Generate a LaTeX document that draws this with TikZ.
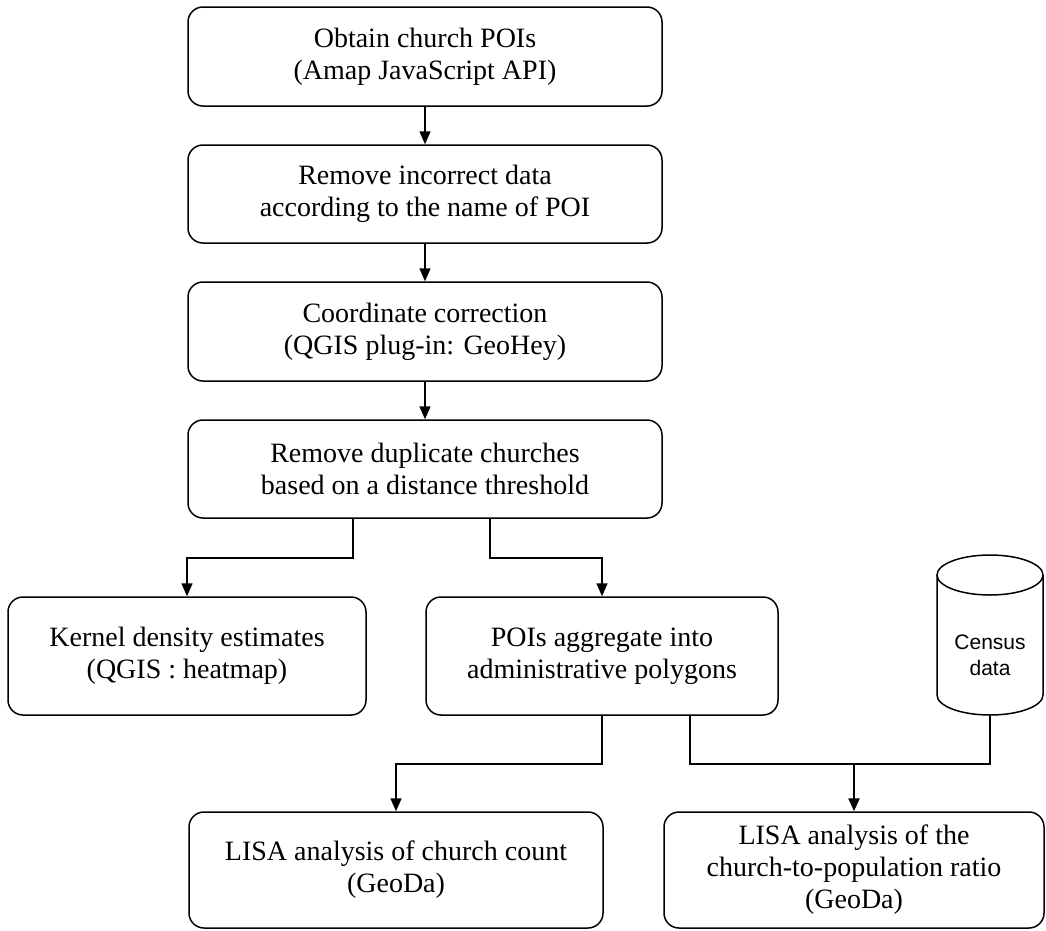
\documentclass[tikz,border=0pt]{standalone}
\usepackage{fontspec}
\setmainfont{Liberation Serif}
\newfontfamily\censusfont{Liberation Sans}
\usetikzlibrary{arrows.meta}
\tikzset{
  stepbox/.style={draw, rounded corners=15pt, line width=1.5pt, align=center,
    inner sep=0pt, font=\fontsize{28}{32}\selectfont},
  flow/.style={-{Triangle[length=13pt,width=11pt]}, line width=1.5pt},
  link/.style={line width=1.5pt},
}

\begin{document}
\begin{tikzpicture}[x=1pt,y=-1pt]
    \useasboundingbox (0,0) rectangle (1046,930);
    \node[stepbox, minimum width=474pt, minimum height=99pt] (obtain) at (425,56.5) {Obtain church POIs\\(Amap JavaScript API)};
    \node[stepbox, minimum width=474pt, minimum height=98pt] (clean) at (425,194) {Remove incorrect data\\according to the name of POI};
    \node[stepbox, minimum width=474pt, minimum height=99pt] (correct) at (425,331.5) {Coordinate correction\\(QGIS plug-in: GeoHey)};
    \node[stepbox, minimum width=474pt, minimum height=98pt] (dedup) at (425,469) {Remove duplicate churches\\based on a distance threshold};
    \node[stepbox, minimum width=358pt, minimum height=118pt] (kde) at (187,656) {Kernel density estimates\\(QGIS : heatmap)};
    \node[stepbox, minimum width=352pt, minimum height=118pt] (agg) at (602,656) {POIs aggregate into\\administrative polygons};
    \node[stepbox, minimum width=414pt, minimum height=116pt] (count) at (396,870) {LISA analysis of church count\\(GeoDa)};
    \node[stepbox, minimum width=380pt, minimum height=116pt] (ratio) at (854,870) {LISA analysis of the\\church-to-population ratio\\(GeoDa)};

    \draw[link] (937,575) -- (937,695) arc[start angle=180,end angle=0,x radius=53,y radius=20] -- (1043,575);
    \draw[link] (990,575) ellipse[x radius=53,y radius=20];
    \node[font=\censusfont\fontsize{21}{26}\selectfont, align=center] (census) at (990,655) {Census\\data};
    \coordinate (cyl) at (990,715);
    \coordinate (merge) at (854,763);

    \draw[flow] (obtain) -- (clean);
    \draw[flow] (clean) -- (correct);
    \draw[flow] (correct) -- (dedup);
    \draw[flow] ([xshift=-72pt]dedup.south) -- ++(0,39) -| (kde.north);
    \draw[flow] ([xshift=65pt]dedup.south) -- ++(0,39) -| (agg.north);
    \draw[flow] (agg.south) -- ++(0,48) -| (count.north);
    \draw[link] ([xshift=88pt]agg.south) -- ++(0,48) -| (cyl);
    \draw[flow, line width=2.4pt] (merge) -- (ratio.north);
\end{tikzpicture}
\end{document}
